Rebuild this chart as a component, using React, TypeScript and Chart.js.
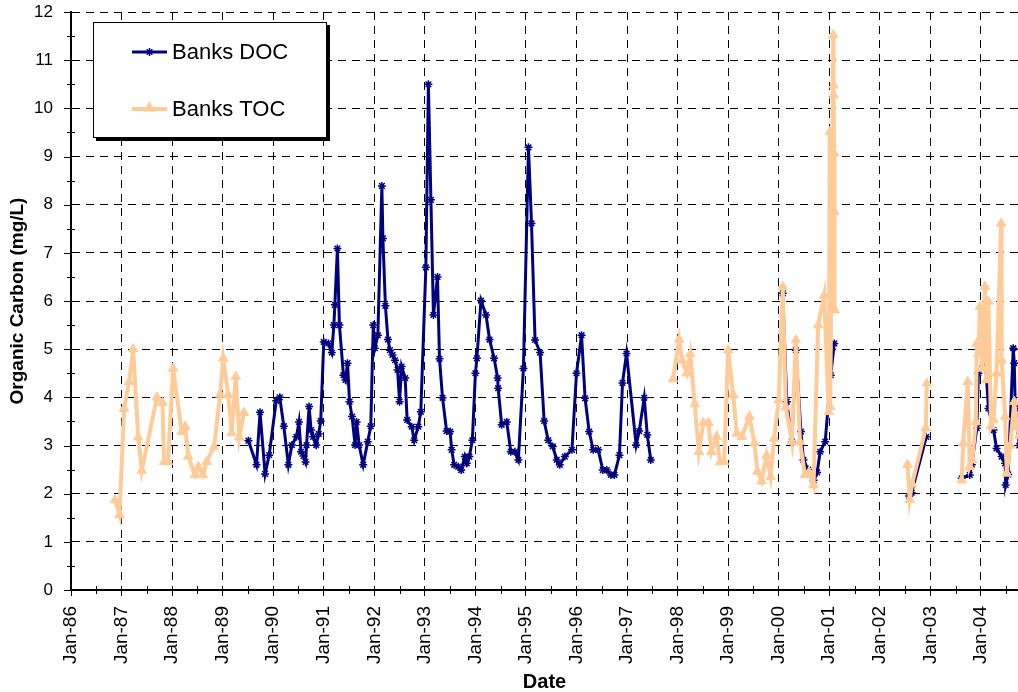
import React, { useEffect, useRef } from "react";
import { Chart, registerables } from "chart.js";

Chart.register(...registerables);

// ---- Data (decimal years, mg/L). null = gap in the record ----
const docDates = [
  1989.51, 1989.67, 1989.74, 1989.84, 1989.92, 1990.06, 1990.13, 1990.21, 1990.3, 1990.37,
  1990.46, 1990.51, 1990.55, 1990.6, 1990.64, 1990.66, 1990.71, 1990.75, 1990.79, 1990.85,
  1990.9, 1990.94, 1991.0, 1991.09, 1991.16, 1991.2, 1991.22, 1991.27, 1991.31, 1991.39,
  1991.43, 1991.47, 1991.51, 1991.56, 1991.62, 1991.65, 1991.7, 1991.78, 1991.87, 1991.93,
  1991.98, 1992.01, 1992.07, 1992.15, 1992.17, 1992.22, 1992.27, 1992.31, 1992.36, 1992.41,
  1992.46, 1992.5, 1992.54, 1992.61, 1992.65, 1992.74, 1992.79, 1992.87, 1992.92, 1993.02,
  1993.07, 1993.12, 1993.17, 1993.25, 1993.29, 1993.35, 1993.43, 1993.5, 1993.53, 1993.58,
  1993.66, 1993.72, 1993.79, 1993.83, 1993.88, 1993.94, 1994.0, 1994.03, 1994.11, 1994.21,
  1994.28, 1994.37, 1994.44, 1994.45, 1994.52, 1994.62, 1994.7, 1994.78, 1994.85, 1994.95,
  1995.05, 1995.11, 1995.18, 1995.28, 1995.36, 1995.44, 1995.53, 1995.61, 1995.67, 1995.77,
  1995.91, 1996.0, 1996.1, 1996.17, 1996.25, 1996.33, 1996.43, 1996.52, 1996.6, 1996.68,
  1996.75, 1996.85, 1996.91, 1996.99, 1997.18, 1997.24, 1997.34, 1997.4, 1997.47,
  1998.5,
  2000.08, 2000.16, 2000.26, 2000.34, 2000.44, 2000.49, 2000.58, 2000.69, 2000.76, 2000.82,
  2000.92, 2001.03, 2001.1,
  2001.8,
  2002.58, 2002.63, 2002.92,
  2003.3,
  2003.62, 2003.78, 2003.82, 2003.92, 2003.95, 2004.08, 2004.15, 2004.25, 2004.31, 2004.41,
  2004.48, 2004.49, 2004.54, 2004.64, 2004.66, 2004.68, 2004.76,
];
const docValues = [
  3.1, 2.6, 3.69, 2.41, 2.8, 3.93, 4.0, 3.4, 2.6, 3.01,
  3.18, 3.49, 2.87, 2.78, 2.66, 3.01, 3.81, 3.32, 3.18, 3.01,
  3.24, 3.51, 5.15, 5.12, 4.93, 5.5, 5.92, 7.09, 5.5, 4.46,
  4.36, 4.71, 3.91, 3.6, 3.01, 3.49, 3.01, 2.6, 3.08, 3.4,
  5.5, 5.02, 5.29, 8.39, 7.3, 5.9, 5.2, 4.98, 4.88, 4.77,
  4.57, 3.91, 4.64, 4.4, 3.53, 3.39, 3.11, 3.39, 3.7, 6.7,
  10.5, 8.1, 5.71, 6.5, 4.8, 3.99, 3.3, 3.29, 2.91, 2.6,
  2.56, 2.49, 2.77, 2.63, 2.77, 3.11, 4.5, 4.81, 6.01, 5.71,
  5.2, 4.81, 4.4, 4.19, 3.43, 3.49, 2.87, 2.87, 2.7, 4.6,
  9.19, 7.61, 5.19, 4.93, 3.51, 3.11, 2.98, 2.7, 2.6, 2.77,
  2.91, 4.5, 5.29, 3.98, 3.29, 2.91, 2.91, 2.49, 2.49, 2.39,
  2.39, 2.8, 4.3, 4.91, 3.01, 3.3, 3.99, 3.22, 2.7,
  null,
  6.16, 3.91, 3.08, 4.98, 3.29, 2.7, 2.5, 2.28, 2.44, 2.87,
  3.08, 4.46, 5.12,
  null,
  1.95, 2.02, 3.18,
  null,
  2.32, 2.39, 2.6, 3.36, 4.5, 4.88, 3.77, 3.32, 2.94, 2.77,
  2.63, 2.18, 2.4, 5.02, 4.71, 3.77, 3.0,
];

const tocDates = [
  1986.87, 1986.96, 1987.05, 1987.15, 1987.23, 1987.33, 1987.4, 1987.7, 1987.81, 1987.84,
  1987.92, 1988.02, 1988.19, 1988.26, 1988.32, 1988.45, 1988.52, 1988.61, 1988.68, 1988.83,
  1988.95, 1989.01, 1989.11, 1989.18, 1989.26, 1989.33, 1989.42,
  1993.5,
  1997.91, 1998.03, 1998.09, 1998.18, 1998.25, 1998.34, 1998.42, 1998.51, 1998.61, 1998.67,
  1998.77, 1998.84, 1998.92, 1999.0, 1999.1, 1999.17, 1999.27, 1999.42, 1999.52, 1999.58,
  1999.66, 1999.76, 1999.84, 1999.91, 2000.0, 2000.08, 2000.14, 2000.26, 2000.34, 2000.42,
  2000.52, 2000.6, 2000.69, 2000.78, 2000.9, 2000.99, 2001.01, 2001.02, 2001.08, 2001.085,
  2001.09, 2001.095, 2001.1, 2001.11,
  2001.8,
  2002.55, 2002.59, 2002.64, 2002.91, 2002.93,
  2003.3,
  2003.62, 2003.65, 2003.74, 2003.78, 2003.83, 2003.9, 2003.92, 2003.95, 2003.98, 2004.02,
  2004.08, 2004.11, 2004.15, 2004.2, 2004.25, 2004.31, 2004.4, 2004.41, 2004.48, 2004.51,
  2004.58, 2004.66, 2004.71, 2004.76,
];
const tocValues = [
  1.87, 1.56, 3.77, 4.32, 5.0, 3.17, 2.48, 4.0, 3.89, 2.66,
  2.66, 4.6, 3.29, 3.39, 2.77, 2.39, 2.56, 2.39, 2.66, 2.97,
  4.06, 4.81, 4.05, 3.26, 4.43, 3.17, 3.68,
  null,
  4.38, 5.2, 4.77, 4.5, 4.9, 3.86, 2.87, 3.47, 3.47, 2.87,
  3.18, 2.66, 2.66, 4.98, 4.05, 3.25, 3.18, 3.6, 3.05, 2.46,
  2.26, 2.79, 2.35, 3.15, 3.94, 6.3, 3.8, 3.08, 5.19, 3.08,
  2.39, 2.45, 2.18, 5.5, 6.12, 3.7, 9.51, 3.8, 11.52, 10.48,
  10.27, 9.07, 7.85, 5.81,
  null,
  2.6, 1.88, 2.2, 3.36, 4.29,
  null,
  2.28, 3.05, 4.32, 2.56, 2.7, 3.49, 5.12, 4.9, 5.88, 4.6,
  6.3, 4.36, 5.99, 3.4, 3.53, 4.5, 7.61, 4.77, 3.6, 2.42,
  3.0, 3.91, 3.39, 3.2,
];

const yearTicks = [
  1986, 1987, 1988, 1989, 1990, 1991, 1992, 1993, 1994, 1995,
  1996, 1997, 1998, 1999, 2000, 2001, 2002, 2003, 2004,
];
const seriesNames = ["Banks DOC", "Banks TOC"];
const xTitle = "Date";
const yTitle = "Organic Carbon (mg/L)";

const X_MIN = 1986;
const X_MAX = 2004.734;
const DOC_COLOR = "#000080";
const TOC_COLOR = "#FFCC99";
const FONT = '"Liberation Sans", Arial, sans-serif';

const toPoints = (dates: number[], vals: (number | null)[]) =>
  dates.map((d, i) => ({ x: d, y: vals[i] }));

const tickLabel = (v: number) => {
  const yy = Math.round(v) % 100;
  return "Jan-" + (yy < 10 ? "0" + yy : String(yy));
};

// tick marks drawn by hand: major (length 7) and minor (crossing the axis)
const axisTicksPlugin = {
  id: "axisTicks",
  afterDraw(chart: any) {
    const { ctx, scales, chartArea } = chart;
    const x = scales.x;
    const y = scales.y;
    ctx.save();
    ctx.strokeStyle = "#000";
    ctx.lineWidth = 1;
    ctx.beginPath();
    for (let v = 0; v <= 12; v += 1) {
      const py = Math.round(y.getPixelForValue(v)) + 0.5;
      ctx.moveTo(chartArea.left - 7, py);
      ctx.lineTo(chartArea.left, py);
    }
    for (let v = 0.5; v < 12; v += 1) {
      const py = Math.round(y.getPixelForValue(v)) + 0.5;
      ctx.moveTo(chartArea.left - 4, py);
      ctx.lineTo(chartArea.left + 4, py);
    }
    for (let yr = X_MIN + 0.5; yr <= X_MAX; yr += 1) {
      const px = Math.round(x.getPixelForValue(yr)) + 0.5;
      ctx.moveTo(px, chartArea.bottom - 4);
      ctx.lineTo(px, chartArea.bottom + 4);
    }
    ctx.stroke();
    ctx.restore();
  },
};

const drawStar = (ctx: CanvasRenderingContext2D, cx: number, cy: number, r: number) => {
  ctx.beginPath();
  ctx.moveTo(cx, cy - r);
  ctx.lineTo(cx, cy + r);
  const d = r * Math.SQRT1_2;
  ctx.moveTo(cx - d, cy - d);
  ctx.lineTo(cx + d, cy + d);
  ctx.moveTo(cx - d, cy + d);
  ctx.lineTo(cx + d, cy - d);
  ctx.stroke();
};

const drawTriangle = (ctx: CanvasRenderingContext2D, cx: number, cy: number, r: number) => {
  ctx.beginPath();
  for (let k = 0; k < 3; k++) {
    const a = (k * 2 * Math.PI) / 3;
    const px = cx + Math.sin(a) * r;
    const py = cy - Math.cos(a) * r;
    if (k === 0) ctx.moveTo(px, py);
    else ctx.lineTo(px, py);
  }
  ctx.closePath();
  ctx.fill();
  ctx.stroke();
};

const legendPlugin = {
  id: "boxLegend",
  afterDraw(chart: any) {
    const { ctx } = chart;
    const bx = 93;
    const by = 22;
    const bw = 234;
    const bh = 116;
    ctx.save();
    ctx.fillStyle = "#000";
    ctx.fillRect(bx + 3, by + 3, bw, bh);
    ctx.fillStyle = "#fff";
    ctx.fillRect(bx, by, bw, bh);
    ctx.strokeStyle = "#000";
    ctx.lineWidth = 1;
    ctx.strokeRect(bx + 0.5, by + 0.5, bw - 1, bh - 1);

    const rows = [
      { y: 52, color: DOC_COLOR, width: 3, kind: "star" },
      { y: 109, color: TOC_COLOR, width: 4, kind: "tri" },
    ];
    rows.forEach((row, i) => {
      ctx.strokeStyle = row.color;
      ctx.fillStyle = row.color;
      ctx.lineWidth = row.width;
      ctx.beginPath();
      ctx.moveTo(132, row.y);
      ctx.lineTo(167, row.y);
      ctx.stroke();
      ctx.lineWidth = 1.5;
      if (row.kind === "star") drawStar(ctx, 149.5, row.y, 4);
      else drawTriangle(ctx, 149.5, row.y - 1, 5.5);
      ctx.fillStyle = "#000";
      ctx.font = "22px " + FONT;
      ctx.textAlign = "left";
      ctx.textBaseline = "middle";
      ctx.fillText(seriesNames[i], 172, row.y + 1);
    });
    ctx.restore();
  },
};

export default function App() {
  const canvasRef = useRef<HTMLCanvasElement | null>(null);

  useEffect(() => {
    const canvas = canvasRef.current;
    if (!canvas) return;
    const chart = new Chart(canvas, {
      type: "line",
      data: {
        datasets: [
          {
            label: seriesNames[0],
            data: toPoints(docDates, docValues),
            borderColor: DOC_COLOR,
            backgroundColor: DOC_COLOR,
            borderWidth: 3,
            pointStyle: "star",
            pointRadius: 4,
            pointBorderWidth: 1.5,
            pointBorderColor: DOC_COLOR,
            pointBackgroundColor: DOC_COLOR,
            tension: 0,
            spanGaps: false,
            order: 1,
          },
          {
            label: seriesNames[1],
            data: toPoints(tocDates, tocValues),
            borderColor: TOC_COLOR,
            backgroundColor: TOC_COLOR,
            borderWidth: 4,
            pointStyle: "triangle",
            pointRadius: 5.5,
            pointBorderWidth: 1,
            pointBorderColor: TOC_COLOR,
            pointBackgroundColor: TOC_COLOR,
            tension: 0,
            spanGaps: false,
            order: 0,
          },
        ],
      },
      options: {
        responsive: false,
        animation: false,
        devicePixelRatio: 1,
        layout: { autoPadding: false, padding: { top: 12, left: 0, right: 0, bottom: 0 } },
        plugins: {
          legend: { display: false },
          tooltip: { enabled: false },
          title: { display: false },
        },
        scales: {
          x: {
            type: "linear",
            min: X_MIN,
            max: X_MAX,
            afterBuildTicks: (s: any) => {
              s.ticks = yearTicks.map((v) => ({ value: v }));
            },
            afterFit: (s: any) => {
              s.height = 102;
            },
            ticks: {
              autoSkip: false,
              minRotation: 90,
              maxRotation: 90,
              padding: 10,
              color: "#000",
              font: { family: FONT, size: 19 },
              callback: (v: any) => tickLabel(Number(v)),
            },
            grid: {
              color: "#000",
              lineWidth: 1,
              drawTicks: true,
              tickLength: 6,
              tickColor: "#000",
            },
            border: { display: true, color: "#000", width: 2, dash: [8, 6] },
            title: {
              display: true,
              text: xTitle,
              color: "#000",
              font: { family: FONT, size: 20, weight: "bold", lineHeight: 1 },
              padding: { top: 0, bottom: 0 },
            },
          },
          y: {
            type: "linear",
            min: 0,
            max: 12,
            afterFit: (s: any) => {
              s.width = 71;
            },
            ticks: {
              stepSize: 1,
              padding: 0,
              color: "#000",
              font: { family: FONT, size: 17 },
            },
            grid: {
              color: "#000",
              lineWidth: 1,
              drawTicks: true,
              tickLength: 18,
              tickColor: "rgba(0,0,0,0)",
            },
            border: { display: true, color: "#000", width: 2, dash: [8, 6] },
            title: {
              display: true,
              text: yTitle,
              color: "#000",
              font: { family: FONT, size: 19, weight: "bold", lineHeight: 1.2 },
              padding: { top: 6, bottom: 0 },
            },
          },
        },
      },
      plugins: [axisTicksPlugin, legendPlugin],
    } as any);
    return () => chart.destroy();
  }, []);

  return (
    <div style={{ position: "absolute", left: 0, top: 0, width: 1018, height: 692, background: "#fff" }}>
      <canvas ref={canvasRef} width={1018} height={692} style={{ display: "block" }} />
    </div>
  );
}
